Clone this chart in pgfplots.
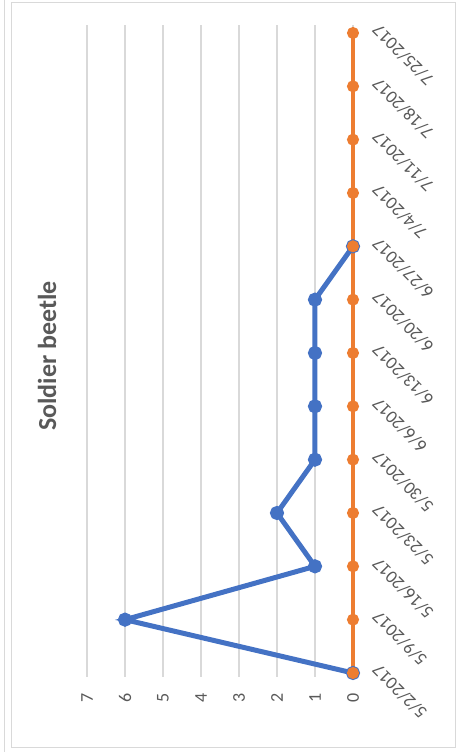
\documentclass[border=0pt]{standalone}
\usepackage{pgfplots}
\pgfplotsset{compat=1.18}
\usepackage{fontspec}
\setmainfont{Carlito}
\definecolor{exblue}{HTML}{4472C4}
\definecolor{exorange}{HTML}{ED7D31}
\definecolor{txtgray}{HTML}{595959}
\definecolor{gridgray}{HTML}{D9D9D9}
\begin{document}
\begin{tikzpicture}
\useasboundingbox (0,0) rectangle (458pt,752pt);
% chart frame
\draw[gridgray, line width=1pt] (11pt,4pt) rectangle (455pt,749pt);
\draw[gridgray, line width=1pt] (4pt,0pt) -- (4pt,752pt);
\begin{axis}[
  at={(87pt,75pt)}, anchor=south west,
  scale only axis, width=266pt, height=652pt,
  xmin=-7, xmax=0, ymin=-0.075, ymax=12.15,
  xtick={-7,-6,-5,-4,-3,-2,-1,0},
  xticklabels={7,6,5,4,3,2,1,0},
  ytick={0,1,2,3,4,5,6,7,8,9,10,11,12},
  yticklabels={5/2/2017,5/9/2017,5/16/2017,5/23/2017,5/30/2017,6/6/2017,6/13/2017,6/20/2017,6/27/2017,7/4/2017,7/11/2017,7/18/2017,7/25/2017},
  yticklabel pos=right,
  axis line style={draw=none},
  major tick style={draw=none},
  xmajorgrids, grid style={gridgray, line width=1.2pt},
  tick label style={font=\fontsize{18}{18}\selectfont, text=txtgray},
  xticklabel style={yshift=-21pt, rotate=90, anchor=center},
  yticklabel style={xshift=20pt, yshift=8pt, rotate=135, anchor=east},
  /pgf/number format/assume math mode=true,
  clip=false,
]
% weekly counts (x = -count so the value axis runs right to left)
\addplot[exblue, line width=5pt, mark=*, mark size=4.5pt, mark options={solid}]
  table[x=v, y=k] {
k v
0 0
1 -6
2 -1
3 -2
4 -1
5 -1
6 -1
7 -1
8 0
};
\addplot[exorange, line width=3.5pt, mark=*, mark size=4.2pt]
  table[x=v, y=k] {
k v
0 0
1 0
2 0
3 0
4 0
5 0
6 0
7 0
8 0
9 0
10 0
11 0
12 0
};
\end{axis}
\node[rotate=90, font=\bfseries\fontsize{26}{26}\selectfont, text=txtgray] at (47pt,396pt) {Soldier beetle};
\end{tikzpicture}
\end{document}
